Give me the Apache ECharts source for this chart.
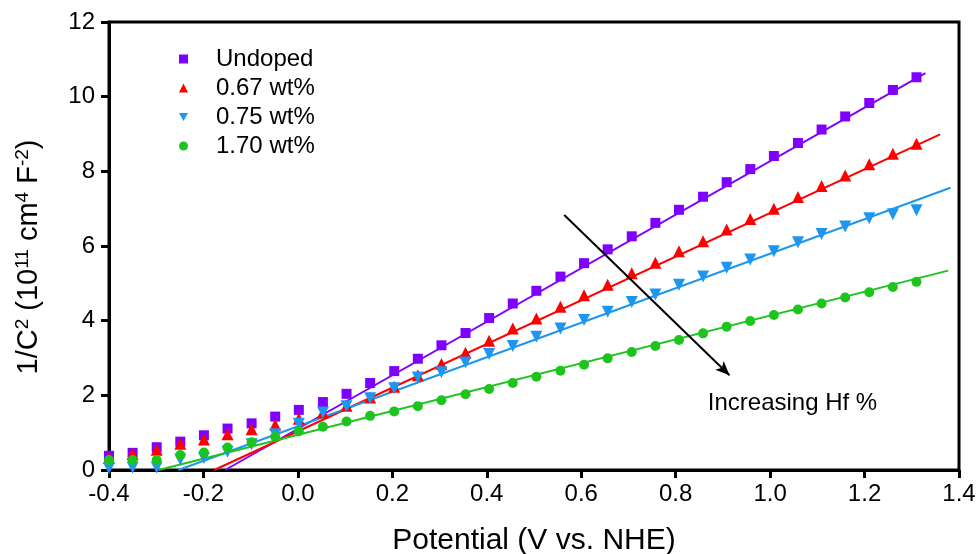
<!DOCTYPE html>
<html>
<head>
<meta charset="utf-8">
<script src="https://cdn.jsdelivr.net/npm/echarts@6/dist/echarts.min.js"></script>
<style>
  html, body { margin: 0; padding: 0; background: #fff; }
  #chart { width: 978px; height: 554px; }
</style>
</head>
<body>
<div id="chart"></div>
<script>
// potential of each measured point (V vs. NHE)
var potential = [-0.400, -0.350, -0.299, -0.249, -0.199, -0.149, -0.098, -0.048, 0.002, 0.053,
  0.103, 0.153, 0.204, 0.254, 0.304, 0.355, 0.405, 0.455, 0.505, 0.556,
  0.606, 0.656, 0.707, 0.757, 0.807, 0.858, 0.908, 0.958, 1.008, 1.059,
  1.109, 1.159, 1.210, 1.260, 1.310];

// 1/C^2 (10^11 cm^4 F^-2)
var undoped = [0.38, 0.46, 0.61, 0.76, 0.93, 1.11, 1.25, 1.43, 1.61, 1.82,
  2.04, 2.33, 2.65, 2.98, 3.34, 3.67, 4.07, 4.46, 4.80, 5.18,
  5.54, 5.91, 6.26, 6.62, 6.97, 7.32, 7.71, 8.06, 8.41, 8.76,
  9.12, 9.47, 9.83, 10.18, 10.52];
var wt067 = [0.32, 0.43, 0.54, 0.70, 0.82, 0.96, 1.09, 1.21, 1.37, 1.54,
  1.72, 1.94, 2.23, 2.54, 2.84, 3.14, 3.46, 3.79, 4.06, 4.37,
  4.68, 4.96, 5.27, 5.55, 5.86, 6.13, 6.44, 6.72, 7.00, 7.31,
  7.61, 7.89, 8.19, 8.47, 8.74];
var wt075 = [0.05, 0.07, 0.07, 0.28, 0.32, 0.49, 0.69, 0.96, 1.24, 1.54,
  1.71, 1.92, 2.19, 2.48, 2.62, 2.88, 3.11, 3.32, 3.57, 3.79,
  4.02, 4.24, 4.50, 4.70, 4.96, 5.18, 5.42, 5.64, 5.86, 6.10,
  6.32, 6.52, 6.74, 6.85, 6.96];
var wt170 = [0.27, 0.27, 0.27, 0.40, 0.47, 0.60, 0.74, 0.89, 1.04, 1.16,
  1.30, 1.45, 1.57, 1.71, 1.87, 2.03, 2.17, 2.33, 2.50, 2.66,
  2.82, 2.99, 3.16, 3.32, 3.48, 3.66, 3.84, 3.99, 4.15, 4.30,
  4.46, 4.62, 4.76, 4.90, 5.04];

// Mott-Schottky fit lines: [x, y] of start and end
var fitUndoped = [[-0.154, 0], [1.329, 10.63]];
var fit067 = [[-0.177, 0], [1.360, 8.99]];
var fit075 = [[-0.253, 0], [1.382, 7.56]];
var fit170 = [[-0.295, 0], [1.377, 5.34]];

var names = ['Undoped', '0.67 wt%', '0.75 wt%', '1.70 wt%'];
var colors = ['#8000FF', '#FF0000', '#1E96F0', '#1DC41D'];

var arrowFrom = [0.564, 6.83];
var arrowTo = [0.914, 2.54];
var notePos = [0.868, 1.79];
var noteText = 'Increasing Hf %';

var xTicks = { min: -0.4, max: 1.4, interval: 0.2 };
var yTicks = { min: 0, max: 12, interval: 2 };

var FONT = '"Liberation Sans", Arial, sans-serif';
var DOWN_TRI = 'path://M0,0 L10,0 L5,9 Z';

function pairs(ys) {
  return ys.map(function (y, i) { return [potential[i], y]; });
}

function scatter(name, ys, color, symbol, size, rotate) {
  return {
    name: name,
    type: 'scatter',
    data: pairs(ys),
    symbol: symbol,
    symbolSize: size,
    symbolRotate: rotate || 0,
    itemStyle: { color: color, opacity: 1 },
    z: 3
  };
}

function fitLine(pts, color) {
  return {
    name: 'fit',
    type: 'line',
    data: pts,
    showSymbol: false,
    symbol: 'none',
    silent: true,
    lineStyle: { color: color, width: 2 },
    z: 2
  };
}

var chart = echarts.init(document.getElementById('chart'));

var option = {
  animation: false,
  backgroundColor: '#fff',
  grid: {
    left: 109, right: 19, top: 22, bottom: 84,
    outerBoundsMode: 'none',
    containLabel: false,
    show: true, borderColor: '#000', borderWidth: 3
  },
  legend: {
    data: [
      { name: names[0], icon: 'rect' },
      { name: names[1], icon: 'triangle' },
      { name: names[2], icon: DOWN_TRI },
      { name: names[3], icon: 'circle' }
    ],
    orient: 'vertical',
    left: 174,
    top: 42,
    itemWidth: 9,
    itemHeight: 9,
    itemGap: 5,
    textStyle: { fontFamily: FONT, fontSize: 24, color: '#000', lineHeight: 24, padding: [0, 0, 0, 23] }
  },
  xAxis: {
    type: 'value',
    min: xTicks.min, max: xTicks.max, interval: xTicks.interval,
    name: 'Potential (V vs. NHE)',
    nameLocation: 'middle',
    nameGap: 56,
    nameTextStyle: { fontFamily: FONT, fontSize: 30, color: '#000' },
    splitLine: { show: false },
    axisLine: { onZero: false, lineStyle: { color: '#000', width: 3 } },
    axisTick: { inside: false, length: 8, lineStyle: { color: '#000', width: 3 } },
    axisLabel: {
      margin: 12, fontFamily: FONT, fontSize: 24, color: '#000',
      formatter: function (v) { return v.toFixed(1); }
    }
  },
  yAxis: {
    type: 'value',
    min: yTicks.min, max: yTicks.max, interval: yTicks.interval,
    name: '1/C{sup|2} (10{sup|11} cm{sup|4} F{sup|-2})',
    nameLocation: 'middle',
    nameRotate: 90,
    nameGap: 64,
    nameTextStyle: {
      fontFamily: FONT, fontSize: 29, color: '#000',
      padding: [0, 22, 0, 0],
      rich: { sup: { fontFamily: FONT, fontSize: 19, color: '#000', verticalAlign: 'top', padding: [0, 0, 13, 0] } }
    },
    splitLine: { show: false },
    axisLine: { onZero: false, lineStyle: { color: '#000', width: 3 } },
    axisTick: { inside: false, length: 8, lineStyle: { color: '#000', width: 3 } },
    axisLabel: { margin: 14, fontFamily: FONT, fontSize: 24, color: '#000' }
  },
  series: [
    fitLine(fitUndoped, colors[0]),
    fitLine(fit067, colors[1]),
    fitLine(fit075, colors[2]),
    fitLine(fit170, colors[3]),
    scatter(names[0], undoped, colors[0], 'rect', 10),
    scatter(names[1], wt067, colors[1], 'triangle', 12),
    scatter(names[2], wt075, colors[2], 'triangle', 12, 180),
    scatter(names[3], wt170, colors[3], 'circle', 10),
    {
      name: 'note',
      type: 'scatter',
      data: [notePos],
      symbolSize: 0,
      silent: true,
      itemStyle: { opacity: 1 },
      label: {
        show: true, position: 'right', distance: 0,
        formatter: noteText,
        fontFamily: FONT, fontSize: 24, color: '#000', opacity: 1
      },
      markLine: {
        silent: true,
        symbol: ['none', 'arrow'],
        symbolSize: [9, 14],
        label: { show: false },
        lineStyle: { color: '#000', width: 2, type: 'solid', opacity: 1 },
        data: [[{ coord: arrowFrom }, { coord: arrowTo }]]
      }
    }
  ]
};

chart.setOption(option);
</script>
</body>
</html>
